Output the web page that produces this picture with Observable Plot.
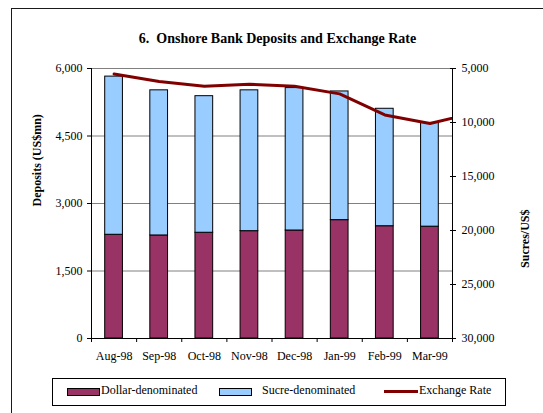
<!DOCTYPE html>
<html>
<head>
<meta charset="utf-8">
<script src="https://cdn.jsdelivr.net/npm/d3@7"></script>
<script src="https://cdn.jsdelivr.net/npm/@observablehq/plot@0.6"></script>
<style>
  html, body { margin: 0; padding: 0; width: 543px; height: 413px; overflow: hidden; background: #fff; }
  body { position: relative; font-family: "Liberation Serif", "Times New Roman", serif; color: #000; }
  #frame { position: absolute; left: 11px; top: 8px; width: 600px; height: 500px; border: 1.5px solid #1a1a1a; }
  #title { position: absolute; left: 0; width: 555px; top: 31px; text-align: center; font-weight: bold; font-size: 14px; }
  #chart { position: absolute; left: 0; top: 0; }
  #legend { position: absolute; left: 52px; top: 378px; width: 452px; height: 26px; border: 1px solid #000; font-size: 12px; }
  .sw { position: absolute; top: 9px; width: 31px; height: 6px; border: 1px solid #000; }
  .lt { position: absolute; top: 4px; white-space: nowrap; }
  .ln { position: absolute; top: 11px; width: 34px; height: 3px; background: #800000; }
</style>
</head>
<body>
<div id="frame"></div>
<div id="chart"></div>
<div id="title">6.&nbsp; Onshore Bank Deposits and Exchange Rate</div>
<div id="legend">
  <div class="sw" style="left:14px;background:#993366"></div><div class="lt" style="left:48px">Dollar-denominated</div>
  <div class="sw" style="left:166px;background:#99CCFF"></div><div class="lt" style="left:209px">Sucre-denominated</div>
  <div class="ln" style="left:331px"></div><div class="lt" style="left:366px">Exchange Rate</div>
</div>
<script>
// ---- data ----
const months = ["Aug-98", "Sep-98", "Oct-98", "Nov-98", "Dec-98", "Jan-99", "Feb-99", "Mar-99"];
const dollarDeposits = [2305, 2290, 2350, 2385, 2400, 2630, 2495, 2485];
const sucreDeposits = [3515, 3225, 3035, 3130, 3165, 2860, 2610, 2305];
const rateMonths = ["Aug-98", "Sep-98", "Oct-98", "Nov-98", "Dec-98", "Jan-99", "Feb-99", "Mar-99", "Apr-99"];
const exchangeRate = [5500, 6200, 6650, 6450, 6650, 7350, 9300, 10100, 9100];
const depositTicks = [0, 1500, 3000, 4500, 6000];
const rateTicks = [5000, 10000, 15000, 20000, 25000, 30000];

// secondary (reversed) axis mapping: 5,000 at top, 30,000 at bottom
const depMax = 6000, rateMin = 5000, rateMax = 30000;
const toY = r => depMax * (rateMax - r) / (rateMax - rateMin);
const fromY = y => rateMax - y * (rateMax - rateMin) / depMax;

const bars = months.map((m, i) => ({i, month: m, dollar: dollarDeposits[i], sucre: sucreDeposits[i]}));
const rateRows = rateMonths.map((m, i) => ({i, month: m, rate: exchangeRate[i]}));
const fmt = d3.format(",");

const chart = Plot.plot({
  width: 543,
  height: 370,
  marginTop: 68,
  marginBottom: 32,
  marginLeft: 91,
  marginRight: 91,
  style: {background: "transparent", fontFamily: "'Liberation Serif', 'Times New Roman', serif", fontSize: "12px", color: "#000"},
  x: {type: "linear", domain: [0, months.length], axis: null},
  y: {domain: [0, depMax], axis: null},
  marks: [
    Plot.ruleY(depositTicks.filter(d => d > 0), {stroke: "#808080", strokeWidth: 1}),
    Plot.rect(bars, {x1: d => d.i, x2: d => d.i + 1, y1: 0, y2: "dollar", fill: "#993366", stroke: "#000", strokeWidth: 1, insetLeft: 13.7, insetRight: 13.7}),
    Plot.rect(bars, {x1: d => d.i, x2: d => d.i + 1, y1: "dollar", y2: d => d.dollar + d.sucre, fill: "#99CCFF", stroke: "#000", strokeWidth: 1, insetLeft: 13.7, insetRight: 13.7}),
    Plot.line(rateRows, {x: d => d.i + 0.5, y: d => toY(d.rate), stroke: "#800000", strokeWidth: 3, clip: true}),
    Plot.ruleY([0], {stroke: "#000"}),
    Plot.ruleX([0, months.length], {stroke: "#000"}),
    // category axis: boundary ticks + centered labels
    Plot.axisX({ticks: d3.range(months.length + 1), tickSize: 4, tickFormat: () => "", stroke: "#000"}),
    Plot.axisX({ticks: months.map((m, i) => i + 0.5), tickSize: 0, tickPadding: 13, tickFormat: v => months[Math.floor(v)], fill: "#000"}),
    // left axis
    Plot.axisY({anchor: "left", ticks: depositTicks, tickSize: 4, tickPadding: 5, tickFormat: fmt, label: null, fill: "#000", stroke: "#000"}),
    // right (secondary) axis
    Plot.axisY({anchor: "right", ticks: rateTicks.map(toY), tickSize: 6, dx: -3, tickFormat: () => "", label: null, stroke: "#000"}),
    Plot.axisY({anchor: "right", ticks: rateTicks.map(toY), tickSize: 0, tickPadding: 9, tickFormat: v => fmt(Math.round(fromY(v))), label: null, fill: "#000"}),
    // axis titles
    Plot.text(["Deposits (US$mn)"], {frameAnchor: "left", rotate: -90, dx: -54, dy: 3, fontWeight: "bold", fontSize: 12, fill: "#000"}),
    Plot.text(["Sucres/US$"], {frameAnchor: "right", rotate: -90, dx: 73, dy: 6, fontWeight: "bold", fontSize: 12, fill: "#000"})
  ]
});
document.getElementById("chart").appendChild(chart);
</script>
</body>
</html>
